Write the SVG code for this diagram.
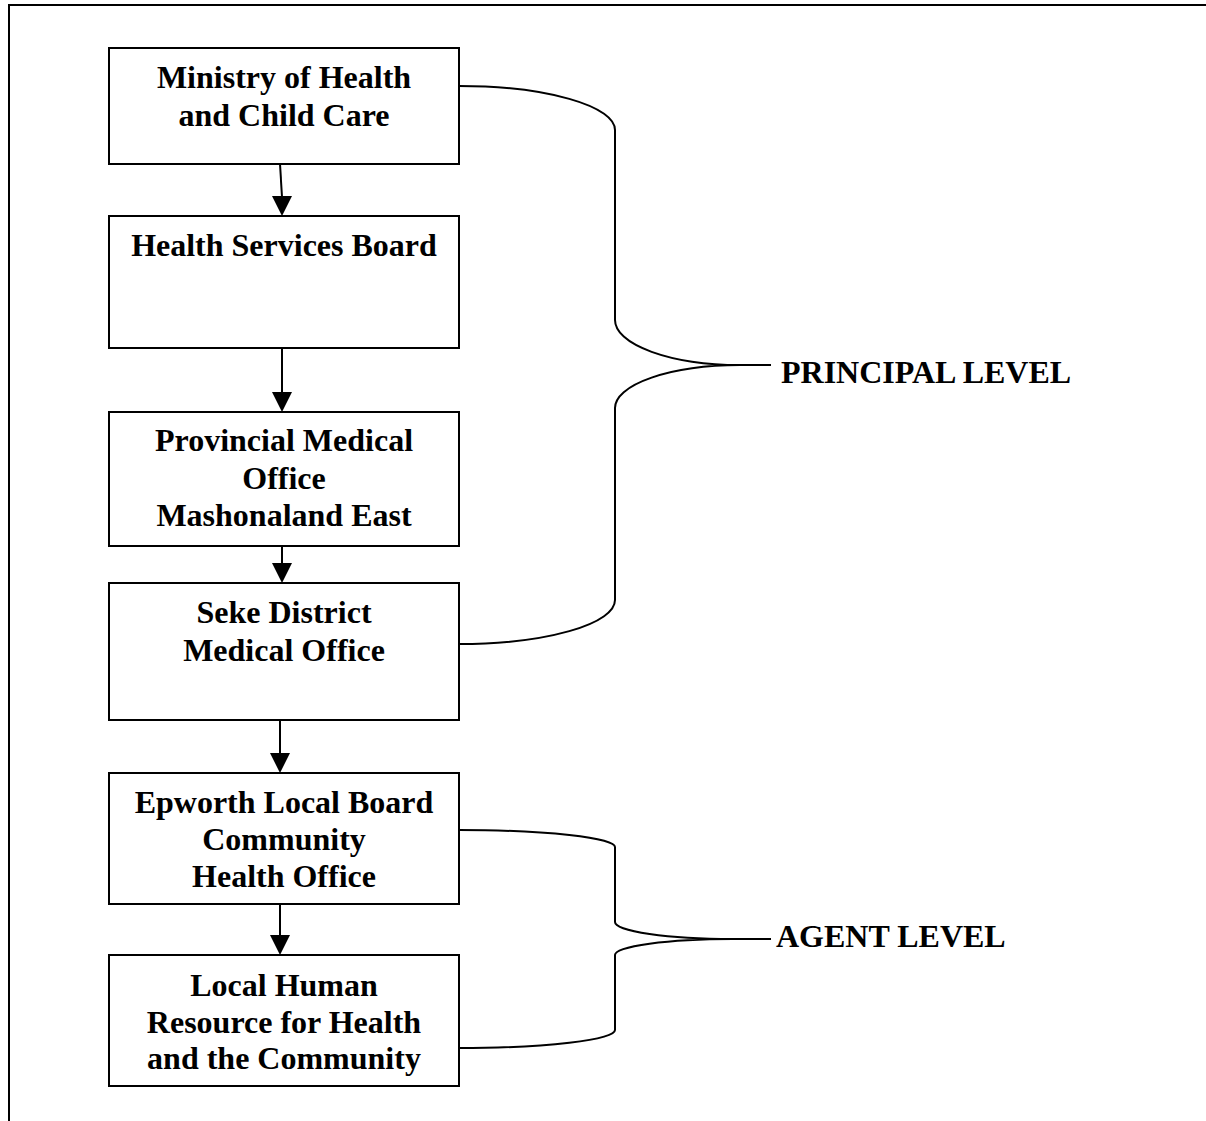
<svg xmlns="http://www.w3.org/2000/svg" width="1206" height="1121" viewBox="0 0 1206 1121">
<style>
.box{fill:#fff;stroke:#000;stroke-width:2}
.t{font-family:"Liberation Serif","Times New Roman",serif;font-weight:bold;font-size:32px;fill:#000;text-anchor:middle}
.lbl{font-family:"Liberation Serif","Times New Roman",serif;font-weight:bold;font-size:32px;fill:#000}
.ln{fill:none;stroke:#000;stroke-width:2}
.ah{fill:#000}
</style>
<rect width="1206" height="1121" fill="#fff"/>
<g id="frame">
<path class="ln" d="M9,1121 V5 H1206"/>
</g>
<g id="n1">
<rect class="box" x="109" y="48" width="350" height="116"/>
<text class="t" x="284" y="88">Ministry of Health</text>
<text class="t" x="284" y="126">and Child Care</text>
</g>
<g id="n2">
<rect class="box" x="109" y="216" width="350" height="132"/>
<text class="t" x="284" y="256">Health Services Board</text>
</g>
<g id="n3">
<rect class="box" x="109" y="412" width="350" height="134"/>
<text class="t" x="284" y="451">Provincial Medical</text>
<text class="t" x="284" y="489">Office</text>
<text class="t" x="284" y="526">Mashonaland East</text>
</g>
<g id="n4">
<rect class="box" x="109" y="583" width="350" height="137"/>
<text class="t" x="284" y="623">Seke District</text>
<text class="t" x="284" y="661">Medical Office</text>
</g>
<g id="n5">
<rect class="box" x="109" y="773" width="350" height="131"/>
<text class="t" x="284" y="813">Epworth Local Board</text>
<text class="t" x="284" y="850">Community</text>
<text class="t" x="284" y="887">Health Office</text>
</g>
<g id="n6">
<rect class="box" x="109" y="955" width="350" height="131"/>
<text class="t" x="284" y="996">Local Human</text>
<text class="t" x="284" y="1033">Resource for Health</text>
<text class="t" x="284" y="1069">and the Community</text>
</g>
<g id="principal">
<text class="lbl" x="781" y="383">PRINCIPAL LEVEL</text>
</g>
<g id="agent">
<text class="lbl" x="776" y="947">AGENT LEVEL</text>
</g>
<g id="connectors">
<line class="ln" x1="280" y1="164" x2="282" y2="197"/>
<polygon class="ah" points="272,196 292,196 282,216"/>
<line class="ln" x1="282" y1="348" x2="282" y2="393"/>
<polygon class="ah" points="272,392 292,392 282,412"/>
<line class="ln" x1="282" y1="546" x2="282" y2="564"/>
<polygon class="ah" points="272,563 292,563 282,583"/>
<line class="ln" x1="280" y1="720" x2="280" y2="754"/>
<polygon class="ah" points="270,753 290,753 280,773"/>
<line class="ln" x1="280" y1="904" x2="280" y2="936"/>
<polygon class="ah" points="270,935 290,935 280,955"/>
<path class="ln" d="M459,86 A156,44 0 0 1 615,130 V320 A125,45 0 0 0 740,365 H771 M740,365 A125,43 0 0 0 615,408 V600 A156,44 0 0 1 459,644"/>
<path class="ln" d="M459,830 A156,17 0 0 1 615,847 V922 A118,17 0 0 0 733,939 H771 M733,939 A118,16 0 0 0 615,955 V1030 A156,18 0 0 1 459,1048"/>
</g>
</svg>
